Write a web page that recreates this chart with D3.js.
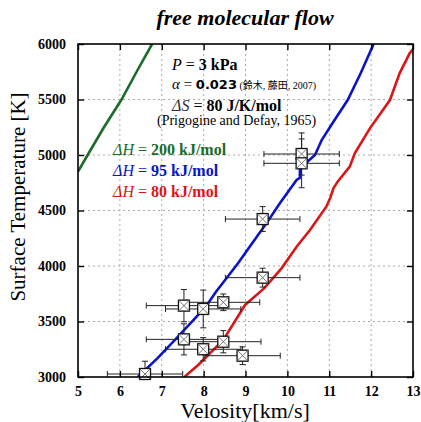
<!DOCTYPE html>
<html><head><meta charset="utf-8">
<script src="https://cdn.jsdelivr.net/npm/d3@7"></script>
<style>body{margin:0;background:#fff}svg{display:block}</style>
</head><body>
<script>
// ---- data ----
const xTicks = [5,6,7,8,9,10,11,12,13];
const yTicks = [3000,3500,4000,4500,5000,5500,6000];
const greenCurve = [[5.0,4850],[5.23,5000],[5.62,5250],[6.04,5500],[6.4,5750],[6.77,6000]];
const blueCurve = [[6.43,3000],[6.9,3170],[7.31,3333],[7.7,3490],[8.05,3633],[8.3,3770],[8.55,3892],[8.83,4030],[9.1,4174],[9.5,4384],[9.82,4565],[10.22,4775],[10.3,4795],[10.3,4870],[10.45,4930],[10.66,5000],[10.82,5135],[11.1,5300],[11.44,5495],[11.75,5736],[12.06,6000]];
const redCurve = [[7.54,3000],[7.87,3108],[8.47,3333],[8.99,3649],[9.45,3800],[9.86,3979],[10.22,4174],[10.54,4324],[10.93,4534],[11.03,4620],[11.1,4700],[11.2,4760],[11.49,4895],[11.61,5015],[11.97,5240],[12.45,5495],[12.68,5736],[12.92,5916],[13.1,6000]];
const ptV = [6.6,7.53,7.99,8.47,7.53,7.99,8.47,8.93,9.41,9.41,10.34,10.34];
const ptT = [3027,3643,3613,3673,3339,3250,3318,3192,3895,4423,5009,4925];
const ptXerr = [0.9,0.9,0.9,0.87,0.9,0.9,0.9,0.9,0.89,0.89,0.9,0.9];
const ptYerr = [115,145,170,75,140,105,100,80,85,112,190,220];
const legendLabels = [["200 kJ/mol","#1b6b2b"],["95 kJ/mol","#0b14c8"],["80 kJ/mol","#d81818"]];

// ---- layout ----
const W=421,H=422, m={l:78,t:44,r:8,b:45};
const pw=W-m.l-m.r, ph=H-m.t-m.b;
const svg=d3.select("body").append("svg").attr("width",W).attr("height",H);
const x=d3.scaleLinear().domain([5,13]).range([m.l,m.l+pw]);
const y=d3.scaleLinear().domain([3000,6000]).range([m.t+ph,m.t]);
const serif='"Liberation Serif","Times New Roman",serif';

svg.append("defs").append("clipPath").attr("id","clip").append("rect")
  .attr("x",m.l).attr("y",m.t).attr("width",pw).attr("height",ph);

// grid
const g=svg.append("g");
g.selectAll(".gx").data(xTicks.slice(1,-1)).join("line")
  .attr("x1",d=>x(d)).attr("x2",d=>x(d)).attr("y1",m.t).attr("y2",m.t+ph)
  .attr("stroke","#aaa").attr("stroke-width",1).attr("stroke-dasharray","2,3");
g.selectAll(".gy").data(yTicks.slice(1,-1)).join("line")
  .attr("y1",d=>y(d)).attr("y2",d=>y(d)).attr("x1",m.l).attr("x2",m.l+pw)
  .attr("stroke","#aaa").attr("stroke-width",1).attr("stroke-dasharray","2,3");

// curves
const line=d3.line().x(d=>x(d[0])).y(d=>y(d[1]));
const cg=svg.append("g").attr("clip-path","url(#clip)");
[[greenCurve,legendLabels[0][1]],[blueCurve,legendLabels[1][1]],[redCurve,legendLabels[2][1]]].forEach(([c,col])=>{
  cg.append("path").attr("d",line(c)).attr("fill","none").attr("stroke",col).attr("stroke-width",2.6);
});

// error bars
const eg=svg.append("g").attr("clip-path","url(#clip)").attr("stroke","#222").attr("stroke-width",1);
const cap=3;
ptV.forEach((v,i)=>{
  const cx=x(v), cy=y(ptT[i]);
  const x0=x(v-ptXerr[i]), x1=x(v+ptXerr[i]);
  const y0=y(ptT[i]-ptYerr[i]), y1=y(ptT[i]+ptYerr[i]);
  eg.append("line").attr("x1",x0).attr("x2",x1).attr("y1",cy).attr("y2",cy);
  eg.append("line").attr("x1",x0).attr("x2",x0).attr("y1",cy-cap).attr("y2",cy+cap);
  eg.append("line").attr("x1",x1).attr("x2",x1).attr("y1",cy-cap).attr("y2",cy+cap);
  eg.append("line").attr("x1",cx).attr("x2",cx).attr("y1",y0).attr("y2",y1);
  eg.append("line").attr("x1",cx-cap).attr("x2",cx+cap).attr("y1",y0).attr("y2",y0);
  eg.append("line").attr("x1",cx-cap).attr("x2",cx+cap).attr("y1",y1).attr("y2",y1);
});
// markers
const mg=svg.append("g");
const s=5.5;
ptV.forEach((v,i)=>{
  const cx=x(v), cy=y(ptT[i]);
  mg.append("rect").attr("x",cx-s).attr("y",cy-s).attr("width",2*s).attr("height",2*s)
    .attr("fill","#fff").attr("stroke","#111").attr("stroke-width",1.3);
  mg.append("line").attr("x1",cx-s).attr("y1",cy-s).attr("x2",cx+s).attr("y2",cy+s).attr("stroke","#666").attr("stroke-width",0.9);
  mg.append("line").attr("x1",cx-s).attr("y1",cy+s).attr("x2",cx+s).attr("y2",cy-s).attr("stroke","#666").attr("stroke-width",0.9);
});

// frame & ticks
svg.append("rect").attr("x",m.l).attr("y",m.t).attr("width",pw).attr("height",ph)
  .attr("fill","none").attr("stroke","#000").attr("stroke-width",1.6);
const tl=6;
const ax=svg.append("g").attr("transform",`translate(0,${m.t+ph})`)
  .call(d3.axisBottom(x).tickValues(xTicks).tickSize(-tl).tickPadding(9).tickFormat(d3.format("d")));
const ax2=svg.append("g").attr("transform",`translate(0,${m.t})`)
  .call(d3.axisTop(x).tickValues(xTicks).tickSize(-tl).tickFormat(""));
const ay=svg.append("g").attr("transform",`translate(${m.l},0)`)
  .call(d3.axisLeft(y).tickValues(yTicks).tickSize(-tl).tickPadding(12).tickFormat(d3.format("d")));
const ay2=svg.append("g").attr("transform",`translate(${m.l+pw},0)`)
  .call(d3.axisRight(y).tickValues(yTicks).tickSize(-tl).tickFormat(""));
[ax,ax2,ay,ay2].forEach(a=>{
  a.attr("font-family",serif);
  a.select(".domain").remove();
  a.selectAll(".tick line").attr("stroke","#000").attr("stroke-width",1.4);
  a.selectAll("text").attr("font-family",serif).attr("font-weight","bold").attr("font-size",14).attr("fill","#000");
});

// titles
svg.append("text").attr("x",245).attr("y",25).attr("text-anchor","middle")
  .attr("font-family",serif).attr("font-weight","bold").attr("font-style","italic").attr("font-size",22)
  .text("free molecular flow");
svg.append("text").attr("x",245).attr("y",418).attr("text-anchor","middle")
  .attr("font-family",serif).attr("font-size",22).text("Velosity[km/s]");
svg.append("text").attr("transform","translate(25,197) rotate(-90)").attr("text-anchor","middle")
  .attr("font-family",serif).attr("font-size",21).text("Surface Temperature [K]");

// annotations
function rich(xp,yp,parts,size,color){
  const t=svg.append("text").attr("x",xp).attr("y",yp).attr("font-family",serif).attr("font-size",size).attr("fill",color||"#000");
  parts.forEach(p=>{
    const ts=t.append("tspan").text(p.t);
    if(p.i) ts.attr("font-style","italic");
    if(p.b) ts.attr("font-weight","bold");
    if(p.s) ts.attr("font-size",p.s);
    if(p.c) ts.attr("fill",p.c);
    if(p.f) ts.attr("font-family",p.f);
  });
  return t;
}
rich(172,70,[{t:"P",i:1},{t:" = "},{t:"3 kPa",b:1}],16);
rich(172,89,[{t:"α",i:1},{t:" = "},{t:"0.023",b:1,f:'"DejaVu Sans",sans-serif',s:13},{t:" (鈴木, 藤田, 2007)",s:10,f:'"Liberation Serif","Noto Sans CJK JP",serif'}],15);
rich(172,111,[{t:"ΔS",i:1,c:"#333"},{t:" = "},{t:"80 J/K/mol",b:1}],16);
rich(157,125,[{t:"(Prigogine and Defay, 1965)"}],14);
legendLabels.forEach((l,i)=>{
  rich(113,155+i*21,[{t:"ΔH",i:1},{t:" = "},{t:l[0],b:1}],16,l[1]);
});
</script>
</body></html>
